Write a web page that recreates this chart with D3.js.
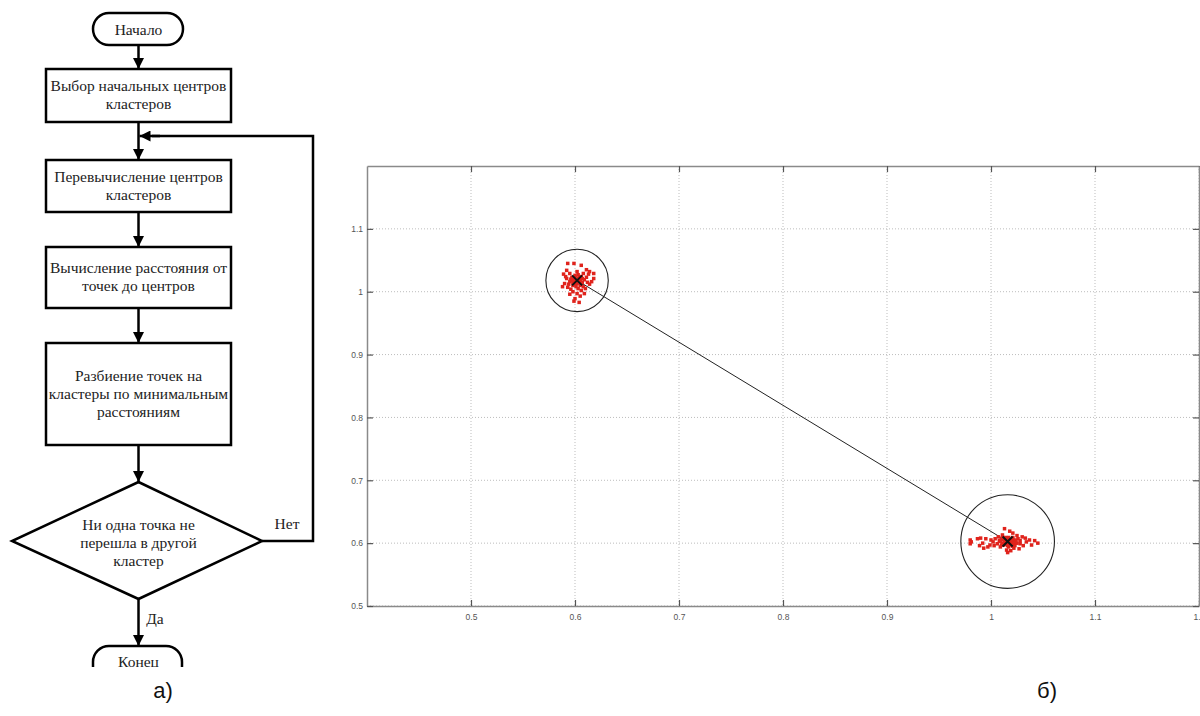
<!DOCTYPE html>
<html><head><meta charset="utf-8">
<script src="https://cdn.jsdelivr.net/npm/d3@7"></script>
<style>
html,body{margin:0;padding:0;background:#fff;}
svg{display:block;}
.serif{font-family:"Liberation Serif","DejaVu Serif","Times New Roman",serif;}
.sans{font-family:"Liberation Sans","DejaVu Sans",Arial,sans-serif;}
</style>
</head><body>
<svg id="c" width="1200" height="716"></svg>
<script>
// ---------- DATA ----------
const xTicks = [0.5, 0.6, 0.7, 0.8, 0.9, 1.0, 1.1, 1.2];
const yTicks = [0.5, 0.6, 0.7, 0.8, 0.9, 1.0, 1.1];
const xTickLabels = ["0.5","0.6","0.7","0.8","0.9","1","1.1","1.2"];
const yTickLabels = ["0.5","0.6","0.7","0.8","0.9","1","1.1"];
const centerX = [0.602, 1.016];
const centerY = [1.018, 0.6025];
const clusterRadius = [0.030, 0.045];
const cluster1X = [0.593,0.599,0.606,0.611,0.614,0.618,0.589,0.595,0.592,0.590,0.588,0.618,0.616,0.614,0.610,0.602,0.605,0.600,0.595,0.609,0.599,0.604,0.597,0.600,0.604,0.607,0.598,0.602,0.606,0.594,0.608,0.596,0.603,0.611,0.592,0.613,0.602,0.601,0.605,0.599,0.596,0.603,0.600,0.605,0.593,0.612,0.591,0.608,0.598,0.606,0.600,0.603,0.604,0.599,0.601,0.598,0.597,0.600,0.604,0.607,0.598,0.603,0.609,0.595,0.601,0.606];
const cluster1Y = [1.045,1.045,1.042,1.035,1.032,1.029,1.028,1.029,1.021,1.013,1.008,1.021,1.016,1.012,1.005,0.997,0.993,0.989,0.996,0.997,0.985,0.983,1.023,1.026,1.024,1.021,1.015,1.013,1.013,1.012,1.008,1.004,1.005,1.023,1.034,1.028,1.032,1.018,1.018,1.020,1.020,1.021,1.012,1.010,1.007,1.015,1.024,1.029,1.000,1.002,1.016,1.016,1.019,1.017,1.014,1.022,1.018,1.023,1.016,1.015,1.010,1.027,1.019,1.016,1.008,1.024];
const cluster2X = [0.980,0.980,0.981,0.990,0.992,0.995,0.997,0.993,1.000,1.002,1.004,1.006,1.008,1.010,1.012,1.014,1.016,1.018,1.020,1.022,1.024,1.026,1.013,1.018,1.021,1.015,1.019,1.016,1.022,1.028,1.030,1.031,1.034,1.037,1.039,1.042,1.045,1.003,1.009,1.025,1.028,1.011,1.017,1.007,1.023,0.999,1.027,1.033,0.987,0.989,1.015,1.017,1.019,1.013,1.020,1.012,1.021,1.014,1.010,1.011,1.012,1.014,1.015,1.016,1.017,1.018,1.019,1.020,1.021,1.022,1.023,1.024,1.013,1.009,1.016,1.021,1.011,1.025];
const cluster2Y = [0.605,0.599,0.602,0.608,0.600,0.607,0.594,0.592,0.605,0.602,0.607,0.599,0.604,0.597,0.608,0.602,0.599,0.605,0.597,0.604,0.600,0.607,0.623,0.619,0.616,0.589,0.588,0.585,0.592,0.599,0.610,0.596,0.602,0.605,0.597,0.604,0.600,0.596,0.594,0.612,0.604,0.613,0.594,0.610,0.596,0.597,0.591,0.608,0.607,0.596,0.603,0.601,0.600,0.605,0.602,0.599,0.606,0.598,0.606,0.600,0.597,0.609,0.606,0.605,0.609,0.601,0.598,0.606,0.609,0.599,0.602,0.605,0.603,0.603,0.596,0.595,0.609,0.600];

const flowSteps = [
  ["Выбор начальных центров", "кластеров"],
  ["Перевычисление центров", "кластеров"],
  ["Вычисление расстояния от", "точек до центров"],
  ["Разбиение точек на", "кластеры по минимальным", "расстояниям"]
];
const decisionText = ["Ни одна точка не", "перешла в другой", "кластер"];
const startLabel = "Начало";
const endLabel = "Конец";
const yesLabel = "Да";
const noLabel = "Нет";
const captions = ["а)", "б)"];

// ---------- DRAW ----------
const svg = d3.select("#c");
const defs = svg.append("defs");
defs.append("marker").attr("id","ah").attr("viewBox","0 0 10 10")
  .attr("refX",10).attr("refY",5).attr("markerWidth",11).attr("markerHeight",11)
  .attr("markerUnits","userSpaceOnUse").attr("orient","auto")
  .append("path").attr("d","M0,0 L10,5 L0,10 Z").attr("fill","#000");
defs.append("clipPath").attr("id","flowclip").append("rect")
  .attr("x",0).attr("y",0).attr("width",330).attr("height",667);
defs.append("clipPath").attr("id","plotclip").append("rect")
  .attr("x",367).attr("y",166).attr("width",832).attr("height",440);

// Flowchart
const fc = svg.append("g").attr("clip-path","url(#flowclip)");
const cx = 138.5, bx0 = 46, bx1 = 231, sw = 2.5;
const boxY = [[69,122],[160,212],[247,308],[343,445]];
const lineH = 18;

function arrow(x1,y1,x2,y2){
  fc.append("line").attr("x1",x1).attr("y1",y1).attr("x2",x2).attr("y2",y2)
    .attr("stroke","#000").attr("stroke-width",sw).attr("marker-end","url(#ah)");
}
function textLines(lines, x, yc){
  const n = lines.length;
  lines.forEach((t,i)=>{
    fc.append("text").attr("class","serif").attr("x",x).attr("y",yc + (i-(n-1)/2)*lineH)
      .attr("text-anchor","middle").attr("dominant-baseline","central")
      .style("font-family",'"Liberation Serif","DejaVu Serif",serif')
      .attr("font-size",15.5).attr("fill","#222").text(t);
  });
}
// start pill
fc.append("rect").attr("x",93).attr("y",13).attr("width",90).attr("height",32)
  .attr("rx",16).attr("fill","#fff").attr("stroke","#000").attr("stroke-width",sw);
textLines([startLabel], cx, 29);
arrow(cx,45,cx,69);
flowSteps.forEach((lines,i)=>{
  const [y0,y1] = boxY[i];
  fc.append("rect").attr("x",bx0).attr("y",y0).attr("width",bx1-bx0).attr("height",y1-y0)
    .attr("fill","#fff").attr("stroke","#000").attr("stroke-width",sw);
  textLines(lines, cx, (y0+y1)/2 - 1);
});
arrow(cx,122,cx,160);
arrow(cx,212,cx,247);
arrow(cx,308,cx,343);
arrow(cx,445,cx,482);
// decision diamond
const dTop=482, dBot=599, dMid=541, dL=12, dR=262;
fc.append("path").attr("d",`M${cx},${dTop} L${dR},${dMid} L${cx},${dBot} L${dL},${dMid} Z`)
  .attr("fill","#fff").attr("stroke","#000").attr("stroke-width",sw).attr("stroke-linejoin","miter");
textLines(decisionText, cx, 542);
// loop back (Нет)
fc.append("polyline").attr("points",`${dR},${dMid} 313,${dMid} 313,136 152,136`)
  .attr("fill","none").attr("stroke","#000").attr("stroke-width",sw);
arrow(160,136,cx+1,136);
textLines([noLabel], 287, 523);
// yes
arrow(cx,dBot,cx,646);
textLines([yesLabel], 155, 618);
fc.append("rect").attr("x",93).attr("y",646).attr("width",89).attr("height",36)
  .attr("rx",16).attr("fill","#fff").attr("stroke","#000").attr("stroke-width",sw);
textLines([endLabel], cx, 661);

// Captions
svg.append("text").attr("x",163).attr("y",698).attr("text-anchor","middle")
  .style("font-family",'"Liberation Sans","DejaVu Sans",sans-serif').attr("font-size",22).attr("fill","#111").text(captions[0]);
svg.append("text").attr("x",1047).attr("y",698).attr("text-anchor","middle")
  .style("font-family",'"Liberation Sans","DejaVu Sans",sans-serif').attr("font-size",22).attr("fill","#111").text(captions[1]);

// Scatter chart
const L=367, R=1199, T=166, B=606;
const x = d3.scaleLinear().domain([0.4,1.2]).range([L,R]);
const y = d3.scaleLinear().domain([0.5,1.2]).range([B,T]);
const g = svg.append("g");
const gridCol = "#bdbdbd";
g.selectAll(".gx").data(xTicks).join("line")
  .attr("x1",d=>x(d)).attr("x2",d=>x(d)).attr("y1",T).attr("y2",B)
  .attr("stroke",gridCol).attr("stroke-width",1).attr("stroke-dasharray","1,2");
g.selectAll(".gy").data(yTicks).join("line")
  .attr("x1",L).attr("x2",R).attr("y1",d=>y(d)).attr("y2",d=>y(d))
  .attr("stroke",gridCol).attr("stroke-width",1).attr("stroke-dasharray","1,2");

const axCol = "#8a8a8a";
const fmtX = d => xTickLabels[xTicks.indexOf(d)];
const fmtY = d => yTickLabels[yTicks.indexOf(d)];
const axB = g.append("g").attr("transform",`translate(0,${B})`)
  .call(d3.axisBottom(x).tickValues(xTicks).tickFormat(fmtX).tickSizeInner(-6).tickSizeOuter(0).tickPadding(6));
const axT = g.append("g").attr("transform",`translate(0,${T})`)
  .call(d3.axisTop(x).tickValues(xTicks).tickFormat("").tickSizeInner(-6).tickSizeOuter(0));
const axL = g.append("g").attr("transform",`translate(${L},0)`)
  .call(d3.axisLeft(y).tickValues(yTicks).tickFormat(fmtY).tickSizeInner(-6).tickSizeOuter(0).tickPadding(4));
const axR = g.append("g").attr("transform",`translate(${R},0)`)
  .call(d3.axisRight(y).tickValues(yTicks).tickFormat("").tickSizeInner(-6).tickSizeOuter(0));
[axB,axT,axL,axR].forEach(a=>{
  a.select(".domain").attr("stroke",axCol).attr("stroke-width",1.5);
  a.selectAll(".tick line").attr("stroke","#555").attr("stroke-width",1.2);
  a.selectAll(".tick text").attr("fill","#555").attr("font-size",8.5)
    .style("font-family",'"Liberation Sans","DejaVu Sans",sans-serif');
});
axB.selectAll(".tick text").attr("dy","0.9em");

const plot = g.append("g").attr("clip-path","url(#plotclip)");
centerX.forEach((c,i)=>{
  const r = x(c+clusterRadius[i]) - x(c);
  plot.append("circle").attr("cx",x(c)).attr("cy",y(centerY[i])).attr("r",r)
    .attr("fill","none").attr("stroke","#222").attr("stroke-width",1.1);
});
plot.append("line").attr("x1",x(centerX[0])).attr("y1",y(centerY[0]))
  .attr("x2",x(centerX[1])).attr("y2",y(centerY[1])).attr("stroke","#222").attr("stroke-width",1);
const pts = cluster1X.map((v,i)=>[v,cluster1Y[i]]).concat(cluster2X.map((v,i)=>[v,cluster2Y[i]]));
plot.selectAll(".pt").data(pts).join("rect")
  .attr("x",d=>x(d[0])-1.75).attr("y",d=>y(d[1])-1.75).attr("width",3.5).attr("height",3.5)
  .attr("fill","#e0231c");
centerX.forEach((c,i)=>{
  const px = x(c), py = y(centerY[i]), s = 5;
  plot.append("path").attr("d",`M${px-s},${py-s}L${px+s},${py+s}M${px-s},${py+s}L${px+s},${py-s}`)
    .attr("stroke","#111").attr("stroke-width",2);
});
</script>
</body></html>
